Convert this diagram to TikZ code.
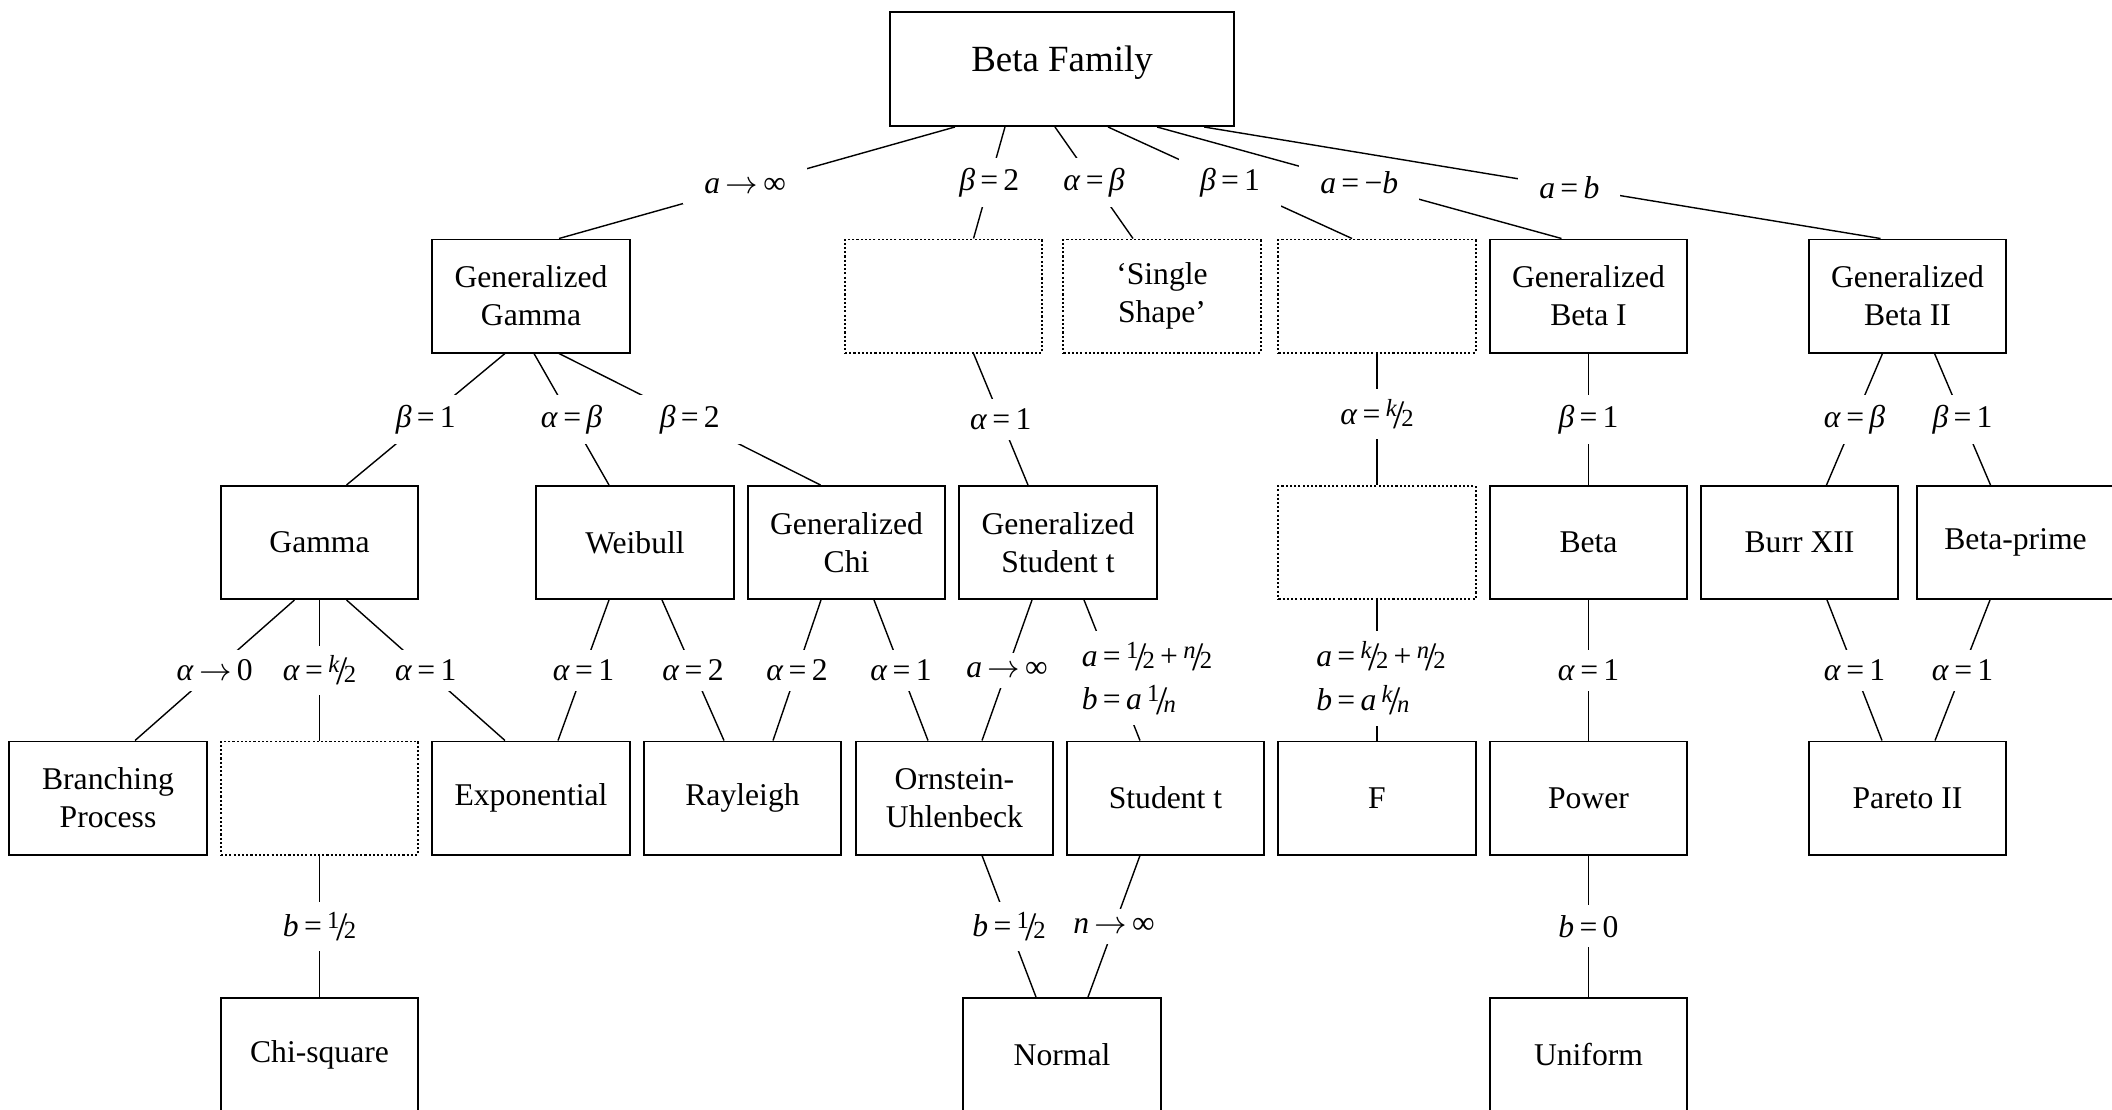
\documentclass[tikz,border=0pt]{standalone}
\usepackage{fontspec}
\setmainfont{Liberation Serif}
\newcommand{\sfr}[2]{\raisebox{.55ex}{\fontsize{7}{8}\selectfont #1}\kern-.1em\raisebox{-.3ex}{\fontsize{11.5}{12}\selectfont /}\kern-.12em\raisebox{-.15ex}{\fontsize{7}{8}\selectfont #2}}
\newcommand{\goes}{\,$\rightarrow$\,}
\tikzset{
  distbox/.style  = {draw, line width=0.55pt, minimum width=1.97cm, minimum height=1.13cm,
                     inner sep=1pt, align=center, font=\fontsize{9}{10.8}\selectfont},
  blankbox/.style = {distbox, dash pattern=on 0.6pt off 0.6pt},
  link/.style     = {line width=0.4pt},
  cond/.style     = {fill=white, inner xsep=6pt, inner ysep=2.8pt, font=\fontsize{9}{10.5}\selectfont},
  cond2/.style    = {cond, align=left, inner ysep=3pt, font=\fontsize{9}{12.5}\selectfont},
}

\begin{document}
\begin{tikzpicture}[x=0.01cm, y=-0.01cm]
  \useasboundingbox (0,0) rectangle (2112,1109);
  % root
  \node[distbox, minimum width=3.44cm, minimum height=1.14cm, text height=.26cm, text depth=.22cm,
        font=\fontsize{10.5}{12}\selectfont]
    (betaFam) at (1062,69) {Beta Family};
  % first level
  \node[distbox]  (genGam)    at (531,296)    {Generalized\\Gamma};
  \node[blankbox] (blankTwo)  at (943.5,296)  {};
  \node[blankbox] (single)    at (1162,296)   {‘Single\\Shape’};
  \node[blankbox] (blankOne)  at (1377,296)   {};
  \node[distbox]  (genBetaI)  at (1588.5,296) {Generalized\\Beta I};
  \node[distbox]  (genBetaII) at (1907.5,296) {Generalized\\Beta II};
  % second level
  \node[distbox]  (gamma)     at (319.5,542.5)  {Gamma};
  \node[distbox]  (weibull)   at (635,542.5)    {Weibull};
  \node[distbox]  (genChi)    at (846.5,542.5)  {Generalized\\Chi};
  \node[distbox]  (genStud)   at (1058,542.5)   {Generalized\\Student t};
  \node[blankbox] (blankK)    at (1377,542.5)   {};
  \node[distbox]  (beta)      at (1588.5,542.5) {Beta};
  \node[distbox]  (burr)      at (1799.5,542.5) {Burr XII};
  \node[distbox]  (betaPrime) at (2015.5,542.5) {Beta-prime};
  % third level
  \node[distbox]  (branch)    at (108,798)    {Branching\\Process};
  \node[blankbox] (blankHalf) at (319.5,798)  {};
  \node[distbox]  (expo)      at (531,798)    {Exponential};
  \node[distbox]  (rayl)      at (742.5,798)  {Rayleigh};
  \node[distbox]  (ornUhl)    at (954.5,798)  {Ornstein-\\Uhlenbeck};
  \node[distbox]  (student)   at (1165.5,798) {Student t};
  \node[distbox]  (fdist)     at (1377,798)   {F};
  \node[distbox]  (power)     at (1588.5,798) {Power};
  \node[distbox]  (pareto)    at (1907.5,798) {Pareto II};
  % fourth level
  \node[distbox]  (chisq)     at (319.5,1054.5)  {Chi-square};
  \node[distbox]  (normal)    at (1062,1054.5)   {Normal};
  \node[distbox]  (uniform)   at (1588.5,1054.5) {Uniform};

  % links from the root
  \draw[link] ([xshift=-1.07cm]betaFam.south) -- node[cond, pos=.53]{\textit{a}\goes∞} ([xshift=.28cm]genGam.north);
  \draw[link] ([xshift=-.57cm]betaFam.south) -- node[cond]{\textit{β}\,=\,2} ([xshift=.30cm]blankTwo.north);
  \draw[link] ([xshift=-.07cm]betaFam.south) -- node[cond]{\textit{α}\,=\,\textit{β}} ([xshift=-.29cm]single.north);
  \draw[link] ([xshift=.46cm]betaFam.south) -- node[cond]{\textit{β}\,=\,1} ([xshift=-.25cm]blankOne.north);
  \draw[link] ([xshift=.95cm]betaFam.south) -- node[cond]{\textit{a}\,=\,−\textit{b}} ([xshift=-.27cm]genBetaI.north);
  \draw[link] ([xshift=1.42cm]betaFam.south) -- node[cond, pos=.54]{\textit{a}\,=\,\textit{b}} ([xshift=-.27cm]genBetaII.north);

  % first to second level
  \draw[link] ([xshift=-.26cm]genGam.south) -- node[cond]{\textit{β}\,=\,1} ([xshift=.27cm]gamma.north);
  \draw[link] ([xshift=.03cm]genGam.south) -- node[cond]{\textit{α}\,=\,\textit{β}} ([xshift=-.26cm]weibull.north);
  \draw[link] ([xshift=.28cm]genGam.south) -- node[cond]{\textit{β}\,=\,2} ([xshift=-.26cm]genChi.north);
  \draw[link] ([xshift=.30cm]blankTwo.south) -- node[cond]{\textit{α}\,=\,1} ([xshift=-.30cm]genStud.north);
  \draw[link] (blankOne) -- node[cond, pos=.46]{\textit{α}\,=\,\sfr{\textit{k}}{2}} (blankK);
  \draw[link] (genBetaI) -- node[cond]{\textit{β}\,=\,1} (beta);
  \draw[link] ([xshift=-.25cm]genBetaII.south) -- node[cond]{\textit{α}\,=\,\textit{β}} ([xshift=.27cm]burr.north);
  \draw[link] ([xshift=.27cm]genBetaII.south) -- node[cond]{\textit{β}\,=\,1} ([xshift=-.25cm]betaPrime.north);

  % second to third level
  \draw[link] ([xshift=-.25cm]gamma.south) -- node[cond]{\textit{α}\goes0} ([xshift=.27cm]branch.north);
  \draw[link] (gamma) -- node[cond]{\textit{α}\,=\,\sfr{\textit{k}}{2}} (blankHalf);
  \draw[link] ([xshift=.27cm]gamma.south) -- node[cond]{\textit{α}\,=\,1} ([xshift=-.26cm]expo.north);
  \draw[link] ([xshift=-.26cm]weibull.south) -- node[cond]{\textit{α}\,=\,1} ([xshift=.27cm]expo.north);
  \draw[link] ([xshift=.27cm]weibull.south) -- node[cond]{\textit{α}\,=\,2} ([xshift=-.185cm]rayl.north);
  \draw[link] ([xshift=-.255cm]genChi.south) -- node[cond]{\textit{α}\,=\,2} ([xshift=.305cm]rayl.north);
  \draw[link] ([xshift=.275cm]genChi.south) -- node[cond]{\textit{α}\,=\,1} ([xshift=-.265cm]ornUhl.north);
  \draw[link] ([xshift=-.26cm]genStud.south) -- node[cond]{\textit{a}\goes∞} ([xshift=.275cm]ornUhl.north);
  \draw[link] ([xshift=.26cm]genStud.south) -- node[cond2, xshift=.35cm, yshift=-.08cm]
    {\textit{a}\,=\,\sfr{1}{2}\,+\,\sfr{\textit{n}}{2}\\\textit{b}\,=\,\textit{a}\,\sfr{1}{\textit{n}}} ([xshift=-.255cm]student.north);
  \draw[link] (blankK) -- node[cond2, xshift=.04cm, yshift=-.08cm]
    {\textit{a}\,=\,\sfr{\textit{k}}{2}\,+\,\sfr{\textit{n}}{2}\\\textit{b}\,=\,\textit{a}\,\sfr{\textit{k}}{\textit{n}}} (fdist);
  \draw[link] (beta) -- node[cond]{\textit{α}\,=\,1} (power);
  \draw[link] ([xshift=.275cm]burr.south) -- node[cond]{\textit{α}\,=\,1} ([xshift=-.255cm]pareto.north);
  \draw[link] ([xshift=-.255cm]betaPrime.south) -- node[cond]{\textit{α}\,=\,1} ([xshift=.275cm]pareto.north);

  % third to fourth level
  \draw[link] (blankHalf) -- node[cond]{\textit{b}\,=\,\sfr{1}{2}} (chisq);
  \draw[link] ([xshift=.275cm]ornUhl.south) -- node[cond]{\textit{b}\,=\,\sfr{1}{2}} ([xshift=-.26cm]normal.north);
  \draw[link] ([xshift=-.255cm]student.south) -- node[cond]{\textit{n}\goes∞} ([xshift=.26cm]normal.north);
  \draw[link] (power) -- node[cond]{\textit{b}\,=\,0} (uniform);
\end{tikzpicture}
\end{document}
